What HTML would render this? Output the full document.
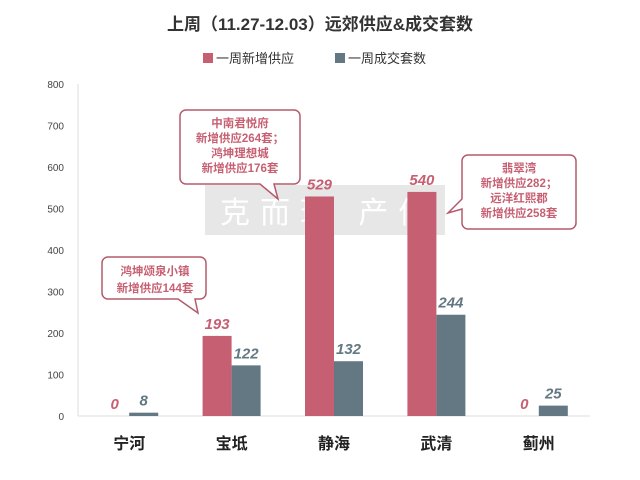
<!DOCTYPE html>
<html><head><meta charset="utf-8">
<style>
body{margin:0;background:#fff;}
svg{display:block;font-family:"Liberation Sans","Noto Sans CJK SC",sans-serif;}
</style></head>
<body>
<svg id="chart" width="640" height="480" viewBox="0 0 640 480">
<text x="320" y="30" text-anchor="middle" font-size="17" font-weight="bold" fill="#333">上周（11.27-12.03）远郊供应&amp;成交套数</text>
<g>
<rect x="203" y="53" width="10" height="10" fill="#c75f72"/>
<text x="216" y="63" font-size="13" fill="#333">一周新增供应</text>
<rect x="335" y="53" width="10" height="10" fill="#637882"/>
<text x="348" y="63" font-size="13" fill="#333">一周成交套数</text>
</g>
<g>
<rect x="205" y="185" width="240" height="50" fill="#bbb" opacity="0.35"/>
<text x="220" y="223" font-size="30" fill="#fff" letter-spacing="10">克而瑞  产信</text>
</g>
<g id="axis"></g>
<g id="bars"></g>
<g>
<path d="M108,257 h92 a6,6 0 0 1 6,6 v30 a6,6 0 0 1 -6,6 h-5 l3,14 l-20,-14 h-70 a6,6 0 0 1 -6,-6 v-30 a6,6 0 0 1 6,-6z" fill="#fff" stroke="#b55a6c" stroke-width="1.5"/>
<text x="155" y="275" text-anchor="middle" font-size="11.5" font-weight="bold" fill="#c75f72">鸿坤颂泉小镇</text>
<text x="155" y="292" text-anchor="middle" font-size="11.5" font-weight="bold" fill="#c75f72">新增供应144套</text>
</g>
<g>
<path d="M186,110 h108 a6,6 0 0 1 6,6 v62 a6,6 0 0 1 -6,6 h-20 l4,15 l-18,-15 h-74 a6,6 0 0 1 -6,-6 v-62 a6,6 0 0 1 6,-6z" fill="#fff" stroke="#b55a6c" stroke-width="1.5"/>
<text x="240" y="127" text-anchor="middle" font-size="11.5" font-weight="bold" fill="#c75f72">中南君悦府</text>
<text x="240" y="142" text-anchor="middle" font-size="11.5" font-weight="bold" fill="#c75f72">新增供应264套；</text>
<text x="240" y="157" text-anchor="middle" font-size="11.5" font-weight="bold" fill="#c75f72">鸿坤理想城</text>
<text x="240" y="172" text-anchor="middle" font-size="11.5" font-weight="bold" fill="#c75f72">新增供应176套</text>
</g>
<g>
<path d="M468,155 h102 a6,6 0 0 1 6,6 v62 a6,6 0 0 1 -6,6 h-102 a6,6 0 0 1 -6,-6 v-14 l-14,4 l14,-14 v-38 a6,6 0 0 1 6,-6z" fill="#fff" stroke="#b55a6c" stroke-width="1.5"/>
<text x="519" y="172" text-anchor="middle" font-size="11.5" font-weight="bold" fill="#c75f72">翡翠湾</text>
<text x="519" y="187" text-anchor="middle" font-size="11.5" font-weight="bold" fill="#c75f72">新增供应282；</text>
<text x="519" y="202" text-anchor="middle" font-size="11.5" font-weight="bold" fill="#c75f72">远洋红熙郡</text>
<text x="519" y="217" text-anchor="middle" font-size="11.5" font-weight="bold" fill="#c75f72">新增供应258套</text>
</g>
</svg>
<script>
const categories = ["宁河","宝坻","静海","武清","蓟州"];
const supply = [0,193,529,540,0];
const deals = [8,122,132,244,25];
const ticks = [0,100,200,300,400,500,600,700,800];

const NS="http://www.w3.org/2000/svg";
const x0=78,x1=590,y0=416,y1=84,yMax=800;
const bw=(x1-x0)/categories.length, barW=29;
function y(v){return y0-(v/yMax)*(y0-y1);}
function cx(i){return x0+bw*(i+0.5);}
function mk(tag,attrs,parent){const e=document.createElementNS(NS,tag);for(const k in attrs)e.setAttribute(k,attrs[k]);parent.appendChild(e);return e;}
const axis=document.getElementById('axis'), bars=document.getElementById('bars');
mk('line',{x1:x0,x2:x0,y1:y1,y2:y0,stroke:'#ddd'},axis);
mk('line',{x1:x0,x2:x1,y1:y0,y2:y0,stroke:'#ddd'},axis);
ticks.forEach(t=>{
  const tx=mk('text',{x:64,y:y(t)+4,'text-anchor':'end','font-size':'10',fill:'#444'},axis);
  tx.textContent=t;
  
  
});
categories.forEach((c,i)=>{
  const t=mk('text',{x:cx(i),y:449,'text-anchor':'middle','font-size':'16','font-weight':'bold',fill:'#222'},axis);
  t.textContent=c;
  
  
  const r1=mk('rect',{x:cx(i)-barW,y:y(supply[i]),width:barW,height:y0-y(supply[i]),fill:'#c75f72'},bars);
  
  
  const r2=mk('rect',{x:cx(i),y:y(deals[i]),width:barW,height:y0-y(deals[i]),fill:'#637882'},bars);
  
  
  const l1=mk('text',{x:cx(i)-barW/2,y:y(supply[i])-7,'text-anchor':'middle','font-size':'15','font-weight':'bold','font-style':'italic',fill:'#c75f72'},bars);
  l1.textContent=supply[i];
  
  
  const l2=mk('text',{x:cx(i)+barW/2,y:y(deals[i])-7,'text-anchor':'middle','font-size':'15','font-weight':'bold','font-style':'italic',fill:'#637882'},bars);
  l2.textContent=deals[i];
  
  
});
</script>
</body></html>
